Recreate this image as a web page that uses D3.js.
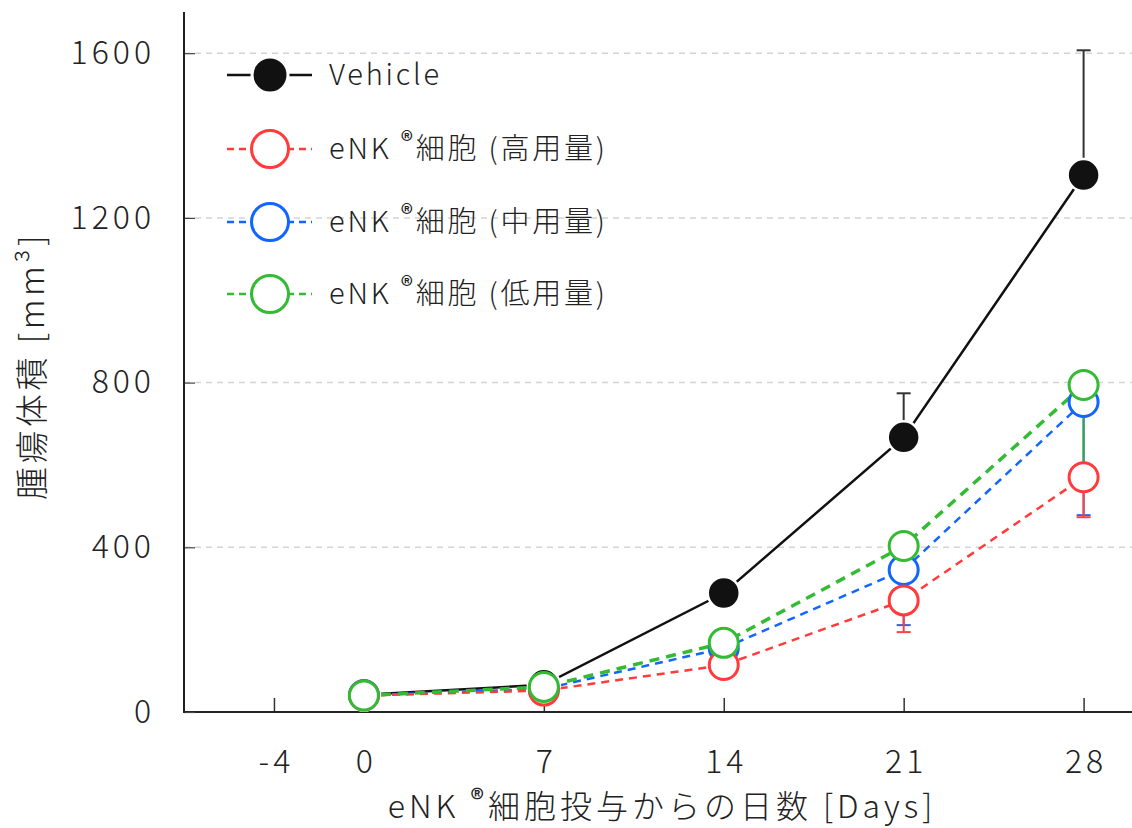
<!DOCTYPE html>
<html><head><meta charset="utf-8">
<script src="https://cdn.jsdelivr.net/npm/d3@7"></script>
<style>
body{margin:0;background:#fff;}
svg{display:block;font-family:"Noto Sans CJK JP","Noto Sans",sans-serif;}
</style></head>
<body><svg id="c" width="1132" height="828"></svg>
<script>
const days = [0, 7, 14, 21, 28];
const vehicle = [42, 66, 289, 667, 1304];
const vehicleErr = [3, 5, 25, 107, 303];
const high = [40, 52, 114, 271, 570];
const highErr = [3, 4, 10, 77, 97];
const mid = [41, 56, 155, 345, 753];
const midErr = [3, 4, 12, 134, 275];
const low = [40, 61, 168, 403, 794];
const lowErr = [3, 4, 12, 50, 200];
const xTickValues = [-3.5, 0, 7, 14, 21, 28];
const xTickLabels = ["-4", "0", "7", "14", "21", "28"];
const yTickValues = [0, 400, 800, 1200, 1600];
const legendLabels = ["Vehicle", "eNK |®|細胞 (高用量)", "eNK |®|細胞 (中用量)", "eNK |®|細胞 (低用量)"];
const xTitle = "eNK |®|細胞投与からの日数 [Days]";
const yTitle = "腫瘍体積 [mm³]";

const series = [
  {vals: vehicle, err: vehicleErr, dir: 1, color: "#111", filled: true, dash: null, width: 2.5, label: legendLabels[0], errColor: "#333"},
  {vals: high, err: highErr, dir: -1, color: "#ff3b3b", filled: false, dash: "8,6", width: 2.5, label: legendLabels[1], errColor: "#ff4040"},
  {vals: mid, err: midErr, dir: -1, color: "#1166ff", filled: false, dash: "8,6", width: 2.5, label: legendLabels[2], errColor: "#3a5fd0"},
  {vals: low, err: lowErr, dir: -1, color: "#33bb33", filled: false, dash: "10,7", width: 3.5, label: legendLabels[3], errColor: "#2eaa40"}
];

const svg = d3.select("#c");
const x = d3.scaleLinear().domain([-7, 30]).range([184, 1135]);
const y = d3.scaleLinear().domain([0, 1700]).range([712, 12]);
const textCol = "#222";
const FW = 300;

// gridlines
svg.append("g").selectAll("line").data(yTickValues.filter(v => v > 0)).join("line")
  .attr("x1", 184).attr("x2", 1132).attr("y1", d => y(d)).attr("y2", d => y(d))
  .attr("stroke", "#d4d4d4").attr("stroke-width", 1.5).attr("stroke-dasharray", "6,5");

// axes
const xAxis = d3.axisBottom(x).tickValues(xTickValues).tickSize(-14).tickPadding(30)
  .tickFormat((d, i) => xTickLabels[i]);
const gx = svg.append("g").attr("transform", "translate(0,712)").call(xAxis);
gx.select(".domain").remove();
gx.selectAll(".tick line").attr("stroke", "#333").attr("stroke-width", 1.5);
gx.selectAll(".tick text").attr("font-size", 32).attr("font-weight", FW).attr("fill", textCol)
  .attr("font-family", "Noto Sans CJK JP").attr("letter-spacing", 4).attr("dx", 2)
  .attr("dy", "0.34em").attr("y", 50);
svg.append("line").attr("x1", 184).attr("x2", 1132).attr("y1", 712).attr("y2", 712).attr("stroke", "#222").attr("stroke-width", 2);

const yAxis = d3.axisLeft(y).tickValues(yTickValues).tickSize(-11).tickPadding(29).tickFormat(d3.format("d"));
const gy = svg.append("g").attr("transform", "translate(184,0)").call(yAxis);
gy.select(".domain").remove();
gy.selectAll(".tick line").attr("stroke", "#444").attr("stroke-width", 1.2);
gy.selectAll(".tick text").attr("font-size", 32).attr("font-weight", FW).attr("fill", textCol)
  .attr("font-family", "Noto Sans CJK JP").attr("letter-spacing", 4);
svg.append("line").attr("x1", 184).attr("x2", 184).attr("y1", 12).attr("y2", 713).attr("stroke", "#222").attr("stroke-width", 2);

// helper for text with superscript ®
function richText(sel, str, size) {
  const parts = str.split("|");
  parts.forEach((p, i) => {
    if (i === 1) {
      sel.append("tspan").text(p).attr("font-size", size * 0.85).attr("baseline-shift", "35%").attr("font-weight", 500);
    } else if (p.length) {
      sel.append("tspan").text(p);
    }
  });
}

// lines
const line = d3.line().x((d, i) => x(days[i])).y(d => y(d));
[0, 2, 1, 3].forEach(k => {
  const s = series[k];
  svg.append("path").datum(s.vals).attr("d", line).attr("fill", "none")
    .attr("stroke", s.color).attr("stroke-width", s.width)
    .attr("stroke-dasharray", s.dash);
});

// error bars
[0, 2, 1, 3].forEach(k => {
  const s = series[k];
  const g = svg.append("g");
  s.vals.forEach((v, i) => {
    const yEnd = y(v + s.dir * s.err[i]);
    g.append("line").attr("x1", x(days[i])).attr("x2", x(days[i])).attr("y1", y(v)).attr("y2", yEnd)
      .attr("stroke", s.errColor).attr("stroke-width", 2);
    g.append("line").attr("x1", x(days[i]) - 7).attr("x2", x(days[i]) + 7).attr("y1", yEnd).attr("y2", yEnd)
      .attr("stroke", s.errColor).attr("stroke-width", 2);
  });
});

// markers
[0, 2, 1, 3].forEach(k => {
  const s = series[k];
  svg.append("g").selectAll("circle").data(s.vals).join("circle")
    .attr("cx", (d, i) => x(days[i])).attr("cy", d => y(d))
    .attr("r", s.filled ? 16 : 14.5)
    .attr("fill", s.filled ? s.color : "#fff")
    .attr("stroke", s.filled ? "#fff" : s.color)
    .attr("stroke-width", s.filled ? 2.5 : 3);
});

// legend
const legY = [75, 149, 222, 294];
series.forEach((s, k) => {
  const g = svg.append("g").attr("transform", `translate(0,${legY[k]})`);
  if (s.filled) {
    g.append("line").attr("x1", 227).attr("x2", 312).attr("stroke", s.color).attr("stroke-width", 2.5);
    g.append("circle").attr("cx", 270).attr("r", 18).attr("fill", s.color).attr("stroke", "#fff").attr("stroke-width", 3);
  } else {
    g.append("line").attr("x1", 227).attr("x2", 312).attr("stroke", s.color).attr("stroke-width", 2.5).attr("stroke-dasharray", "7,5");
    g.append("circle").attr("cx", 270).attr("r", 18.5).attr("fill", "#fff").attr("stroke", s.color).attr("stroke-width", 3);
  }
  const t = g.append("text").attr("x", 329).attr("y", 0).attr("dy", "0.36em")
    .attr("font-size", 29).attr("font-weight", FW).attr("letter-spacing", 2.8).attr("fill", textCol);
  richText(t, s.label, 29);
});

// axis titles
const xt = svg.append("text").attr("x", 662).attr("y", 806).attr("dy", "0.36em").attr("text-anchor", "middle")
  .attr("font-size", 32).attr("font-weight", FW).attr("letter-spacing", 4).attr("fill", textCol);
richText(xt, xTitle, 32);
svg.append("text").attr("transform", "translate(32,366) rotate(-90)").attr("dy", "0.36em").attr("text-anchor", "middle")
  .attr("font-size", 33).attr("font-weight", FW).attr("letter-spacing", 3.5).attr("fill", textCol).text(yTitle);
</script></body></html>
